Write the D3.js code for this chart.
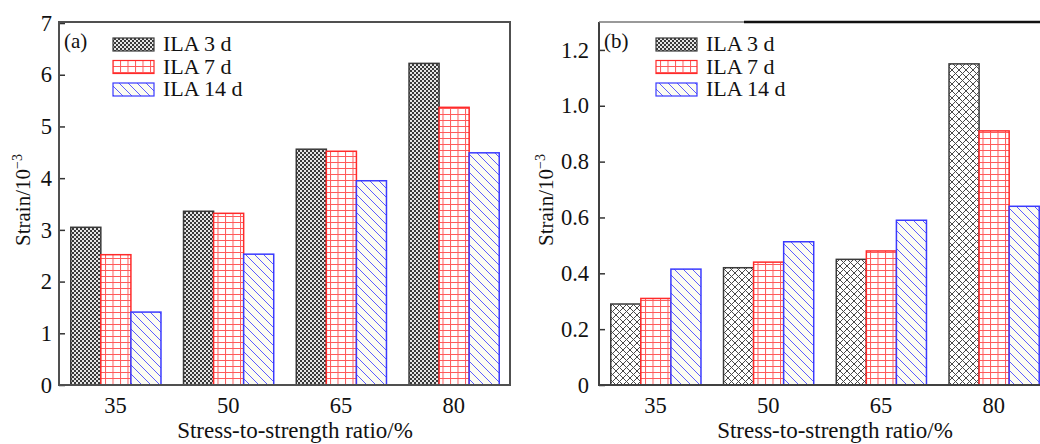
<!DOCTYPE html>
<html>
<head>
<meta charset="utf-8">
<script src="https://cdn.jsdelivr.net/npm/d3@7"></script>
<style>
  body { margin: 0; background: #fff; }
  svg { display: block; }
  text { font-family: "Liberation Serif", "Times New Roman", serif; fill: #111; }
</style>
</head>
<body>
<script>
// data
var categories = ["35", "50", "65", "80"];
var seriesNames = ["ILA 3 d", "ILA 7 d", "ILA 14 d"];

var strainA3 = [3.05, 3.36, 4.56, 6.22];
var strainA7 = [2.52, 3.32, 4.52, 5.37];
var strainA14 = [1.41, 2.53, 3.95, 4.49];

var strainB3 = [0.29, 0.42, 0.45, 1.15];
var strainB7 = [0.31, 0.44, 0.48, 0.91];
var strainB14 = [0.415, 0.513, 0.59, 0.64];

var ticksA = [0, 1, 2, 3, 4, 5, 6, 7];
var ticksB = [0, 0.2, 0.4, 0.6, 0.8, 1.0, 1.2];

var width = 1040,
    height = 444,
    plotTop = 22,
    plotBottom = 385,
    panelW = 451;

var svg = d3.select("body").append("svg")
    .attr("width", width)
    .attr("height", height);

var defs = svg.append("defs");

// fine checker used for 3 d in panel (a) and the legends
var pChk = defs.append("pattern")
    .attr("id", "chk").attr("patternUnits", "userSpaceOnUse")
    .attr("width", 4).attr("height", 4);
pChk.append("rect").attr("width", 4).attr("height", 4).attr("fill", "#e6e6e6");
pChk.append("rect").attr("width", 2).attr("height", 2).attr("fill", "#3a3a3a");
pChk.append("rect").attr("x", 2).attr("y", 2).attr("width", 2).attr("height", 2).attr("fill", "#3a3a3a");

// diamond crosshatch for 3 d in panel (b)
var pX = defs.append("pattern")
    .attr("id", "xhatch").attr("patternUnits", "userSpaceOnUse")
    .attr("width", 7).attr("height", 7);
pX.append("rect").attr("width", 7).attr("height", 7).attr("fill", "#fff");
pX.append("path")
    .attr("d", "M0,0L7,7M7,0L0,7")
    .attr("stroke", "#4a4a4a").attr("stroke-width", 1);

// red grid
var pGrid = defs.append("pattern")
    .attr("id", "grid").attr("patternUnits", "userSpaceOnUse")
    .attr("width", 7.5).attr("height", 6);
pGrid.append("rect").attr("width", 7.5).attr("height", 6).attr("fill", "#fff");
pGrid.append("path")
    .attr("d", "M0.5,0V6M0,0.5H7.5")
    .attr("stroke", "#ff5a5a").attr("stroke-width", 1);

// blue back-diagonal
var pDiag = defs.append("pattern")
    .attr("id", "diag").attr("patternUnits", "userSpaceOnUse")
    .attr("width", 9).attr("height", 9);
pDiag.append("rect").attr("width", 9).attr("height", 9).attr("fill", "#fcfcf2");
pDiag.append("path")
    .attr("d", "M-1,-1L10,10M-2,7L2,11M7,-2L11,2")
    .attr("stroke", "#5c5cff").attr("stroke-width", 1);

var strokes = ["#3a3a3a", "#ff2a2a", "#3a3aff"];

function panel(opts) {
    var g = svg.append("g");

    var x = d3.scaleBand()
        .domain(categories)
        .range([opts.left, opts.left + panelW])
        .paddingInner(0.2)
        .paddingOuter(0.1);

    var x1 = d3.scaleBand()
        .domain(seriesNames)
        .range([0, x.bandwidth()]);

    var y = d3.scaleLinear()
        .domain(opts.domain)
        .range([plotBottom, plotTop]);

    var fills = [opts.blackFill, "url(#grid)", "url(#diag)"];
    var series = [opts.s3, opts.s7, opts.s14];

    // bars
    series.forEach(function(vals, si) {
        g.append("g").selectAll("rect")
            .data(vals)
            .enter().append("rect")
            .attr("x", function(d, i) { return x(categories[i]) + x1(seriesNames[si]) + 0.5; })
            .attr("y", function(d) { return y(d); })
            .attr("width", x1.bandwidth())
            .attr("height", function(d) { return plotBottom - y(d); })
            .attr("fill", fills[si])
            .attr("stroke", strokes[si])
            .attr("stroke-width", 1.5);
    });

    // y axis, ticks inward
    var ya = g.append("g")
        .attr("transform", "translate(" + opts.left + ",0)")
        .call(d3.axisLeft(y)
            .tickValues(opts.ticks)
            .tickFormat(opts.fmt)
            .tickSize(-6)
            .tickPadding(opts.pad));
    ya.select(".domain").remove();
    ya.selectAll("line").attr("stroke", "#333").attr("stroke-width", 1.5);
    ya.selectAll("text").style("font-size", "22.5px")
        .style("font-family", "Liberation Serif, Times New Roman, serif").attr("fill", "#111");

    // x axis labels
    var xa = g.append("g")
        .attr("transform", "translate(0," + plotBottom + ")")
        .call(d3.axisBottom(x).tickSize(0).tickPadding(12));
    xa.select(".domain").remove();
    xa.selectAll("text").style("font-size", "22.5px")
        .style("font-family", "Liberation Serif, Times New Roman, serif").attr("fill", "#111");

    // axis titles
    g.append("text")
        .attr("x", opts.left + 236)
        .attr("y", 438)
        .attr("text-anchor", "middle")
        .style("font-size", "23px")
        .text("Stress-to-strength ratio/%");

    var yt = g.append("text")
        .attr("transform", "translate(" + opts.ytitleX + ",200) rotate(-90)")
        .attr("text-anchor", "middle")
        .style("font-size", "21px");
    yt.append("tspan").text("Strain/10");
    yt.append("tspan").attr("dy", -8).style("font-size", "14px").text("\u22123");

    // panel tag
    g.append("text")
        .attr("x", opts.left + 5)
        .attr("y", 48)
        .style("font-size", "21px")
        .text(opts.tag);

    // legend
    var leg = g.append("g");
    var legFills = ["url(#chk)", "url(#grid)", "url(#diag)"];
    seriesNames.forEach(function(name, i) {
        var ly = 38 + i * 22.5;
        leg.append("rect")
            .attr("x", opts.legX).attr("y", ly)
            .attr("width", 41).attr("height", 13)
            .attr("fill", legFills[i])
            .attr("stroke", strokes[i]).attr("stroke-width", 1.2);
        leg.append("text")
            .attr("x", opts.legX + 50)
            .attr("y", ly + 13)
            .style("font-size", "22px")
            .text(name);
    });

    return g;
}

panel({
    left: 59, domain: [0, 7.02], ticks: ticksA, fmt: d3.format("d"), pad: 7,
    s3: strainA3, s7: strainA7, s14: strainA14, blackFill: "url(#chk)",
    ytitleX: 30, tag: "(a)", legX: 113
});

panel({
    left: 599, domain: [0, 1.3], ticks: ticksB,
    fmt: function(d) { return d === 0 ? "0" : d3.format(".1f")(d); }, pad: 10,
    s3: strainB3, s7: strainB7, s14: strainB14, blackFill: "url(#xhatch)",
    ytitleX: 553, tag: "(b)", legX: 656
});

// frame (a): full box
svg.append("rect")
    .attr("x", 59).attr("y", plotTop)
    .attr("width", panelW).attr("height", plotBottom - plotTop)
    .attr("fill", "none")
    .attr("stroke", "#505050").attr("stroke-width", 2);

// frame (b): left, bottom, and the odd two-part top edge
svg.append("path")
    .attr("d", "M599," + plotTop + "V" + plotBottom + "H" + width)
    .attr("fill", "none")
    .attr("stroke", "#404040").attr("stroke-width", 2);
svg.append("path")
    .attr("d", "M599," + plotTop + "H744")
    .attr("stroke", "#777").attr("stroke-width", 1.5);
svg.append("path")
    .attr("d", "M744," + plotTop + "H" + width)
    .attr("stroke", "#111").attr("stroke-width", 2.5);
</script>
</body>
</html>
